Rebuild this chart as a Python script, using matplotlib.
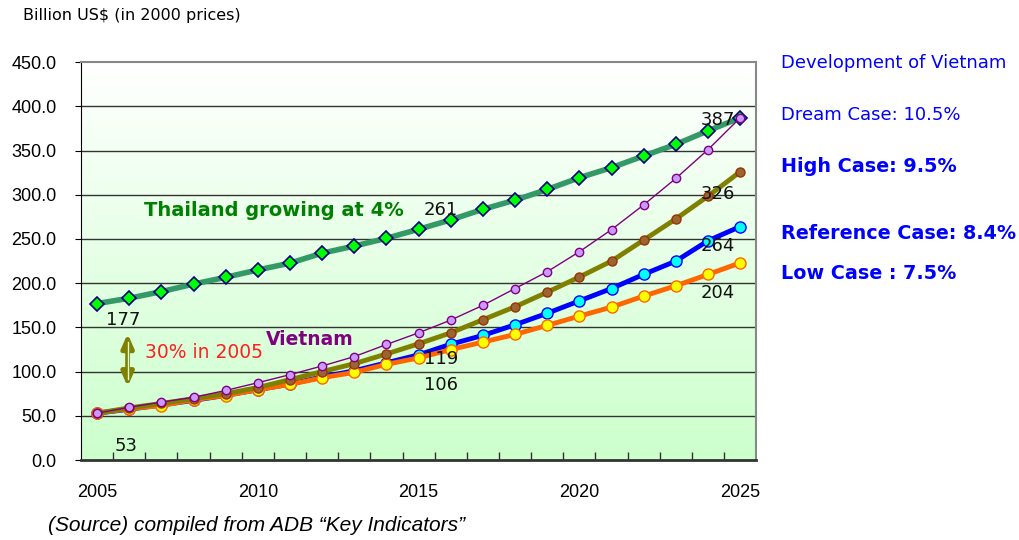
import numpy as np
import matplotlib.pyplot as plt
from matplotlib.ticker import MultipleLocator, FixedLocator
from matplotlib.colors import LinearSegmentedColormap

plt.rcParams['font.family'] = ['DejaVu Sans']

years = list(range(2005, 2026))

thailand = [177, 183, 190.5, 199, 206.7, 215, 222.7, 234, 242, 250.8, 261,
            271.6, 283.6, 293.9, 306, 319.3, 330.7, 343.9, 357, 372.3, 387]
dream = [53, 59.8, 65.5, 71, 78.7, 87.5, 96.6, 106.4, 117, 130.7, 143.9,
         158.3, 175, 194, 213, 235.6, 260.6, 288.6, 318.5, 351, 387]
high = [53, 59, 64, 69.5, 75, 82, 91, 100, 109, 120, 131.5,
        143.9, 158.7, 173.4, 189.8, 207, 225, 248.8, 272.7, 298.4, 326]
reference = [53, 57.5, 62.3, 67.5, 73.2, 79.5, 86, 94, 101, 110, 119,
             131, 141, 153, 166, 180, 194, 210, 225, 248, 264]
low = [53, 58, 61.7, 68.2, 73, 79.5, 85.6, 93.1, 99.2, 108.3, 115.5,
       125, 133.4, 142.1, 152.3, 162.8, 173, 185.4, 197.1, 209.9, 223]

# value labels: (text, x, y)
value_labels = [("177", 2005.8, 158), ("53", 2005.9, 16), ("261", 2015.7, 283),
                ("387", 2024.3, 385), ("326", 2024.3, 301), ("264", 2024.3, 242),
                ("204", 2024.3, 189), ("119", 2015.7, 114), ("106", 2015.7, 85)]

narrow = ['Liberation Sans Narrow', 'DejaVu Sans Condensed', 'Liberation Sans']

fig = plt.figure(figsize=(10.2, 5.4), dpi=100)
ax = fig.add_axes([0.0794, 0.148, 0.662, 0.737])

# white -> light green background
cmap = LinearSegmentedColormap.from_list('bg', ['#ccffcc', '#ffffff'])
grad = np.linspace(0, 1, 256).reshape(-1, 1)
ax.imshow(grad, cmap=cmap, origin='lower', aspect='auto',
          extent=[2004.5, 2025.5, 0, 450], zorder=0)

for v in range(50, 450, 50):
    ax.axhline(v, color='#333333', lw=1.0, zorder=1)

ax.plot(years, thailand, color='#339966', lw=4, marker='D', ms=7,
        mfc='#00ff00', mec='#000080', mew=1.2, zorder=3)
ax.plot(years, reference, color='#0000ff', lw=3.5, marker='o', ms=8,
        mfc='#00ffff', mec='#0000ff', mew=1, zorder=4)
ax.plot(years, low, color='#ff6600', lw=3.5, marker='o', ms=8,
        mfc='#ffff00', mec='#ff6600', mew=1, zorder=5)
ax.plot(years, high, color='#808000', lw=3.5, marker='o', ms=6.5,
        mfc='#996633', mec='#993300', mew=1, zorder=6)
ax.plot(years, dream, color='#800080', lw=1, marker='o', ms=6,
        mfc='#cc99ff', mec='#800080', mew=1, zorder=7)

ax.set_xlim(2004.5, 2025.5)
ax.set_ylim(0, 450)
ax.yaxis.set_major_locator(MultipleLocator(50))
ax.set_yticklabels([f"{v:.1f}" for v in ax.get_yticks()])
ax.set_xticks([2005, 2010, 2015, 2020, 2025])
ax.xaxis.set_minor_locator(FixedLocator(np.arange(2005.5, 2025.5, 1)))
ax.tick_params(axis='x', which='major', length=0, pad=17, labelsize=13)
ax.tick_params(axis='x', which='minor', direction='in', length=6, width=1, color='#333333')
ax.tick_params(axis='y', direction='out', length=4, labelsize=13, pad=13.5)
for lbl in ax.get_xticklabels() + ax.get_yticklabels():
    lbl.set_family(narrow)

for s in ['top', 'right']:
    ax.spines[s].set_color('#888888')
    ax.spines[s].set_linewidth(1.5)
ax.spines['left'].set_color('#000000')
ax.spines['bottom'].set_color('#333333')
ax.spines['bottom'].set_linewidth(2)

for txt, x, y in value_labels:
    ax.text(x, y, txt, fontsize=13, ha='center', va='center', color='#111111', zorder=8)

ax.text(2006.45, 282, "Thailand growing at 4%", fontsize=14, fontweight='bold',
        color='#008000', ha='left', va='center', zorder=8)
ax.text(2010.24, 136, "Vietnam", fontsize=13.5, fontweight='bold',
        color='#800080', ha='left', va='center', zorder=8)
ax.text(2006.5, 122, "30% in 2005", fontsize=13.5, color='#ff2020',
        ha='left', va='center', zorder=8)

# double-headed arrow with a hollow shaft
ax.annotate("", xy=(2005.95, 83), xytext=(2005.95, 143),
            arrowprops=dict(arrowstyle='<|-|>,head_width=0.35,head_length=0.8',
                            color='#808000', lw=3.5, shrinkA=0, shrinkB=0), zorder=8)
ax.plot([2005.95, 2005.95], [92, 134], color='#d8ffd8', lw=1, zorder=9)

fig.text(0.0225, 0.972, "Billion US$ (in 2000 prices)", fontsize=11.5, ha='left', va='center')
fig.text(0.766, 0.883, "Development of Vietnam", fontsize=13, color='#0000ff', va='center')
fig.text(0.766, 0.787, "Dream Case: 10.5%", fontsize=13, color='#0000ff', va='center')
fig.text(0.766, 0.691, "High Case: 9.5%", fontsize=13.8, color='#0000ff',
         fontweight='bold', va='center')
fig.text(0.766, 0.568, "Reference Case: 8.4%", fontsize=13.8, color='#0000ff',
         fontweight='bold', va='center')
fig.text(0.766, 0.494, "Low Case : 7.5%", fontsize=13.8, color='#0000ff',
         fontweight='bold', va='center')
fig.text(0.047, 0.027, "(Source) compiled from ADB \u201cKey Indicators\u201d", fontsize=15,
         style='italic', va='center', family=narrow)

fig.savefig('out.png', dpi=100)
